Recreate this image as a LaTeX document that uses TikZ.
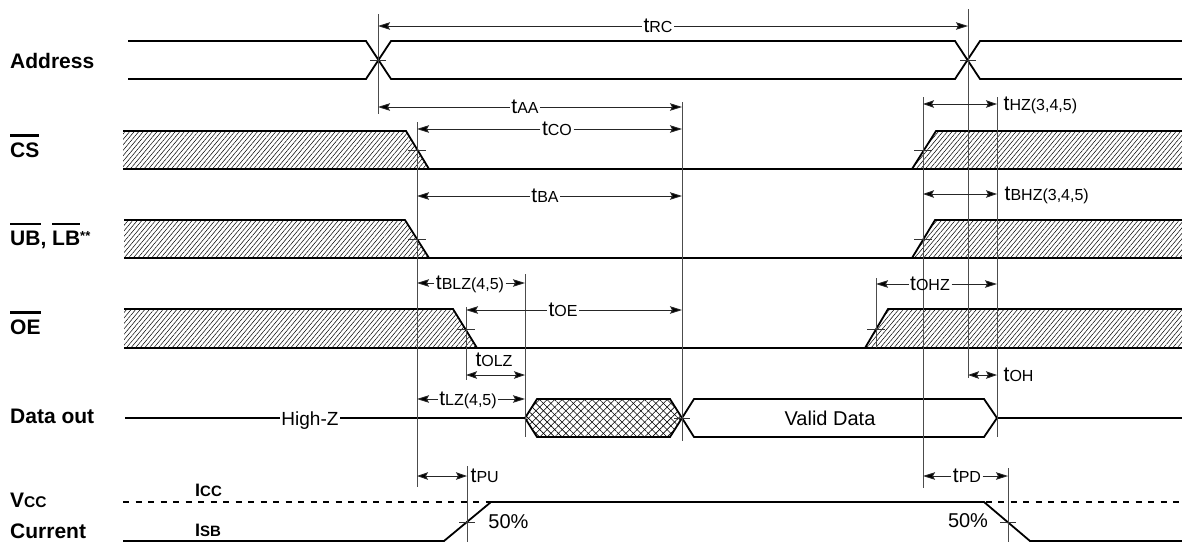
\documentclass[tikz,border=0pt]{standalone}
\usepackage{fontspec}
\setmainfont{Liberation Sans}
\usetikzlibrary{arrows.meta,patterns.meta}
\newcommand\tsub[1]{{\fontsize{21}{21}\selectfont t}{\fontsize{16}{16}\selectfont #1}}
\newcommand\ovl[1]{\setbox0\hbox{#1}\rlap{\raisebox{\dimexpr\ht0+5.5pt\relax}{\rule{\wd0}{2.4pt}}}\box0}
\begin{document}
\begin{tikzpicture}[x=1pt,y=-1pt,
  sig/.style={line width=1.8pt},
  guide/.style={black!70,line width=0.9pt},
  tickmark/.style={black!80,line width=0.8pt},
  dimarrow/.style={black!85,line width=0.9pt,-{Stealth[length=12pt,width=7.5pt,inset=2pt,fill=black]}},
  dimboth/.style={black!85,line width=0.9pt,{Stealth[length=11pt,width=7.5pt,inset=2pt,fill=black]}-{Stealth[length=11pt,width=7.5pt,inset=2pt,fill=black]}},
  hatch/.style={pattern={Lines[angle=50,distance=3.5pt,line width=0.5pt]}},
  xa/.style={pattern={Lines[angle=45,distance=5.3pt,line width=0.6pt]}},
  xb/.style={pattern={Lines[angle=-45,distance=5.3pt,line width=0.6pt]}},
  lbl/.style={font=\fontsize{21}{21}\selectfont\bfseries,anchor=base west,inner sep=0pt},
  tl/.style={anchor=base,inner sep=1.5pt},
  tlw/.style={anchor=base west,inner sep=1.5pt},
  txt/.style={font=\fontsize{20}{20}\selectfont,anchor=base,inner sep=1.5pt}]
\useasboundingbox (0,0) rectangle (1182,542);

% ---------- left labels
\node[lbl] (nAddr) at (10,68) {Address};
\node[lbl] (nCS) at (10,157) {\ovl{CS}};
\node[lbl] (nUB) at (10,245) {\ovl{UB}, \ovl{LB}\raisebox{5pt}{\fontsize{13}{13}\selectfont **}};
\node[lbl] (nOE) at (10,334) {\ovl{OE}};
\node[lbl] (nData) at (10,423) {Data out};
\node[lbl] (nVcc) at (10,507) {V{\fontsize{15.5}{15.5}\selectfont CC}};
\node[lbl] (nCur) at (10,538) {Current};
\node[lbl] (nIcc) at (195,496) {{\fontsize{18}{18}\selectfont I}{\fontsize{15}{15}\selectfont CC}};
\node[lbl] (nIsb) at (195,536) {{\fontsize{18}{18}\selectfont I}{\fontsize{15}{15}\selectfont SB}};

% ---------- Address
\draw[sig] (128,41) -- (366,41) -- (391,79) -- (955,79) -- (980,41) -- (1182,41);
\draw[sig] (128,79) -- (366,79) -- (391,41) -- (955,41) -- (980,79) -- (1182,79);

% ---------- CS
\fill[hatch] (123,131) -- (406,131) -- (429,169) -- (123,169) -- cycle;
\fill[hatch] (912,169) -- (936,131) -- (1182,131) -- (1182,169) -- cycle;
\draw[sig] (123,131) -- (406,131) -- (429,169);
\draw[sig] (912,169) -- (936,131) -- (1182,131);
\draw[sig] (123,169) -- (1182,169);

% ---------- UB, LB
\fill[hatch] (124,220) -- (405,220) -- (429,258) -- (124,258) -- cycle;
\fill[hatch] (912,258) -- (935,220) -- (1182,220) -- (1182,258) -- cycle;
\draw[sig] (124,220) -- (405,220) -- (429,258);
\draw[sig] (912,258) -- (935,220) -- (1182,220);
\draw[sig] (124,258) -- (1182,258);

% ---------- OE
\fill[hatch] (124,309) -- (453,309) -- (477,348) -- (124,348) -- cycle;
\fill[hatch] (865,348) -- (888,309) -- (1182,309) -- (1182,348) -- cycle;
\draw[sig] (124,309) -- (453,309) -- (477,348);
\draw[sig] (865,348) -- (888,309) -- (1182,309);
\draw[sig] (124,348) -- (1182,348);

% ---------- Data out
\draw[sig] (125,418) -- (525,418);
\fill[xa] (525,418) -- (537,399) -- (670,399) -- (682,418) -- (670,437) -- (537,437) -- cycle;
\fill[xb] (525,418) -- (537,399) -- (670,399) -- (682,418) -- (670,437) -- (537,437) -- cycle;
\draw[sig] (525,418) -- (537,399) -- (670,399) -- (682,418) -- (670,437) -- (537,437) -- cycle;
\draw[sig] (682,418) -- (694,399) -- (984,399) -- (997,418) -- (984,437) -- (694,437) -- cycle;
\draw[sig] (997,418) -- (1182,418);
\node[txt,font=\fontsize{19}{19}\selectfont,fill=white] (nHZ) at (310,425) {High-Z};
\node[txt] (nValid) at (830,425) {Valid Data};

% ---------- Current
\draw[line width=1.4pt,dash pattern=on 6pt off 6.5pt] (123,502) -- (1182,502);
\draw[sig] (123,541) -- (444,541) -- (491,502) -- (984,502) -- (1030,541) -- (1182,541);
\node[txt] (n50a) at (508.5,528) {50\%};
\node[txt] (n50b) at (968,527) {50\%};

% ---------- guide lines
\draw[guide] (378,14) -- (378,114);
\draw[guide] (968,9) -- (968,378);
\draw[guide] (417,122) -- (417,487);
\draw[guide] (682,102) -- (682,441);
\draw[guide] (923,97) -- (923,488);
\draw[guide] (997,97) -- (997,437);
\draw[guide] (466,307) -- (466,380);
\draw[guide] (525,274) -- (525,437);
\draw[guide] (876,278) -- (876,348);
\draw[guide] (467,466) -- (467,542);
\draw[guide] (1008,468) -- (1008,542);

% ---------- crossing ticks
\draw[tickmark] (370,60) -- (386,60);
\draw[tickmark] (960,60) -- (976,60);
\draw[tickmark] (408,150) -- (426,150);
\draw[tickmark] (914,150) -- (932,150);
\draw[tickmark] (408,239) -- (426,239);
\draw[tickmark] (914,239) -- (932,239);
\draw[tickmark] (457,329) -- (475,329);
\draw[tickmark] (867,329) -- (885,329);
\draw[tickmark] (674,418) -- (690,418);
\draw[tickmark] (459,522) -- (475,522);
\draw[tickmark] (1000,522) -- (1016,522);

% ---------- timing arrows
\coordinate (rcL) at (378,26); \coordinate (rcR) at (968,26);
\node[tl] (lRC) at (658,32) {\tsub{RC}};
\draw[dimarrow] (lRC.west |- rcL) -- (rcL);
\draw[dimarrow] (lRC.east |- rcR) -- (rcR);

\coordinate (aaL) at (378,107); \coordinate (aaR) at (682,107);
\node[tl] (lAA) at (525,113) {\tsub{AA}};
\draw[dimarrow] (lAA.west |- aaL) -- (aaL);
\draw[dimarrow] (lAA.east |- aaR) -- (aaR);

\coordinate (coL) at (417,129); \coordinate (coR) at (682,129);
\node[tl] (lCO) at (557,135) {\tsub{CO}};
\draw[dimarrow] (lCO.west |- coL) -- (coL);
\draw[dimarrow] (lCO.east |- coR) -- (coR);

\coordinate (hzL) at (923,104); \coordinate (hzR) at (997,104);
\draw[dimboth] (hzL) -- (hzR);
\node[tlw] (lHZ) at (1002,110) {\tsub{HZ(3,4,5)}};

\coordinate (baL) at (417,196); \coordinate (baR) at (682,196);
\node[tl] (lBA) at (545,202) {\tsub{BA}};
\draw[dimarrow] (lBA.west |- baL) -- (baL);
\draw[dimarrow] (lBA.east |- baR) -- (baR);

\coordinate (bhzL) at (923,194); \coordinate (bhzR) at (997,194);
\draw[dimboth] (bhzL) -- (bhzR);
\node[tlw] (lBHZ) at (1003,200) {\tsub{BHZ(3,4,5)}};

\coordinate (blzL) at (417,283); \coordinate (blzR) at (525,283);
\node[tl] (lBLZ) at (470,289) {\tsub{BLZ(4,5)}};
\draw[dimarrow] (lBLZ.west |- blzL) -- (blzL);
\draw[dimarrow] (lBLZ.east |- blzR) -- (blzR);

\coordinate (oeL) at (466,310); \coordinate (oeR) at (682,310);
\node[tl] (lOE) at (563,316) {\tsub{OE}};
\draw[dimarrow] (lOE.west |- oeL) -- (oeL);
\draw[dimarrow] (lOE.east |- oeR) -- (oeR);

\coordinate (ohzL) at (876,284); \coordinate (ohzR) at (997,284);
\node[tl] (lOHZ) at (930,290) {\tsub{OHZ}};
\draw[dimarrow] (lOHZ.west |- ohzL) -- (ohzL);
\draw[dimarrow] (lOHZ.east |- ohzR) -- (ohzR);

\coordinate (olzL) at (466,375); \coordinate (olzR) at (525,375);
\draw[dimboth] (olzL) -- (olzR);
\node[tl] (lOLZ) at (494,366) {\tsub{OLZ}};

\coordinate (ohL) at (968,375); \coordinate (ohR) at (997,375);
\draw[dimboth] (ohL) -- (ohR);
\node[tlw] (lOH) at (1002,381) {\tsub{OH}};

\coordinate (lzL) at (417,399); \coordinate (lzR) at (525,399);
\node[tl] (lLZ) at (468,405) {\tsub{LZ(4,5)}};
\draw[dimarrow] (lLZ.west |- lzL) -- (lzL);
\draw[dimarrow] (lLZ.east |- lzR) -- (lzR);

\coordinate (puL) at (417,476); \coordinate (puR) at (467,476);
\draw[dimboth] (puL) -- (puR);
\node[tlw] (lPU) at (469,482) {\tsub{PU}};

\coordinate (pdL) at (923,476); \coordinate (pdR) at (1008,476);
\node[tl] (lPD) at (967,482) {\tsub{PD}};
\draw[dimarrow] (lPD.west |- pdL) -- (pdL);
\draw[dimarrow] (lPD.east |- pdR) -- (pdR);
\end{tikzpicture}
\end{document}
